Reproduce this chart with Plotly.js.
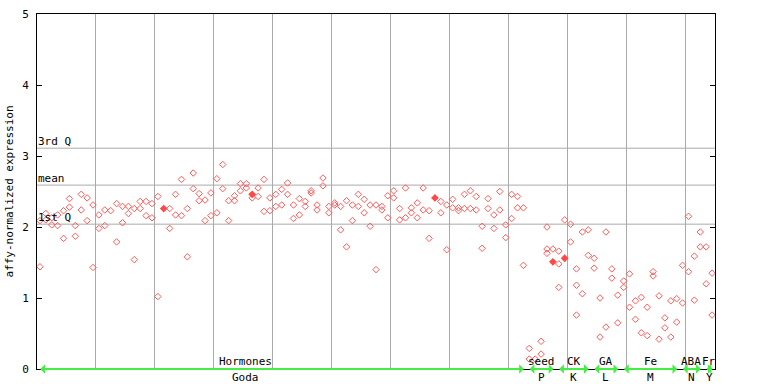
<!DOCTYPE html>
<html><head><meta charset="utf-8">
<script src="https://cdn.plot.ly/plotly-3.0.1.min.js"></script>
<style>html,body{margin:0;padding:0;background:#fff}#chart{width:768px;height:384px}</style>
</head><body><div id="chart"></div>
<script>
// replicate values per sample (sample index = array position)
const repA = [1.44,2.19,2.13,2.17,2.23,2.40,2.02,2.46,2.41,2.31,
2.17,2.24,2.23,2.33,2.29,2.29,2.26,2.36,2.36,2.33,
2.43,null,2.26,2.46,2.67,2.26,2.76,2.47,2.38,2.48,
2.68,2.88,2.37,2.44,2.61,2.61,2.41,2.55,2.67,2.41,
2.46,2.53,2.62,2.31,2.40,2.36,2.51,2.31,2.69,2.29,
2.34,2.29,2.37,2.31,2.46,2.39,2.31,2.31,2.29,2.44,
2.51,2.26,2.55,2.27,2.34,2.55,2.23,null,2.36,2.31,
2.39,2.27,2.46,2.51,2.43,2.01,2.40,2.17,2.50,2.03,
2.46,2.43,2.27,
0.29,0.14,0.39,2.00,1.69,1.66,2.10,2.04,1.41,1.93,
1.96,1.56,1.00,1.93,1.41,1.04,1.24,1.34,0.96,1.01,
0.87,1.37,1.03,0.72,0.96,0.99,1.46,2.15,1.59,1.93,
1.72,1.35];
const repB = [2.09,2.10,2.03,2.02,1.84,2.28,1.87,2.24,2.09,1.43,
1.98,2.02,null,1.79,2.06,2.19,1.54,2.26,2.16,2.13,
1.02,null,1.98,2.17,2.16,1.58,2.54,2.37,2.09,2.16,
2.20,2.54,2.09,2.37,2.51,2.55,null,2.43,2.22,2.23,
2.29,2.31,2.46,2.12,2.17,2.29,2.48,2.24,2.58,2.20,
2.31,1.96,1.72,2.09,2.29,2.20,2.01,1.40,2.24,2.13,
2.41,2.10,2.13,2.20,2.13,2.24,1.84,null,2.20,1.68,
2.27,2.23,2.26,2.26,2.24,1.70,2.26,1.98,2.24,1.85,
2.12,2.27,1.46,
0.14,null,0.21,1.69,null,1.48,null,1.79,1.18,1.06,
1.60,1.42,0.45,0.59,1.28,0.65,1.15,0.87,0.70,0.51,
0.47,1.31,0.42,0.58,0.45,0.66,0.93,1.37,0.97,1.72,
1.20,0.76];
const repCSample = [86, 88, 91];
const repCValue = [1.63, 1.15, 0.76];
const highlightSample = [21, 36, 67, 87, 89];
const highlightValue = [2.26, 2.46, 2.41, 1.51, 1.56];

const groupNames = ["Hormones","seed","CK","GA","Fe","ABA","Fr"];
const groupSubs  = ["Goda","P","K","L","M","N","Y"];
const groupStart = [0, 83, 88, 94, 99, 109, 113];
const groupEnd   = [83, 88, 94, 99, 109, 113, 115];

const quartileNames = ["3rd Q", "mean", "1st Q"];
const quartileValues = [3.11, 2.59, 2.04];

const nSamples = repA.length;
const xs = repA.map((v,i)=>i+0.5);
const red = '#ff5a5a';
const mk = {symbol:'diamond-open', size:5, color:red, line:{width:1, color:red}};
const font = {family:'DejaVu Sans Mono, monospace', size:11, color:'#000'};

const traces = [
  {x: xs, y: repA, type:'scatter', mode:'markers', marker: mk, hoverinfo:'skip', cliponaxis:false},
  {x: xs, y: repB, type:'scatter', mode:'markers', marker: mk, hoverinfo:'skip', cliponaxis:false},
  {x: repCSample.map(i=>i+0.5), y: repCValue, type:'scatter', mode:'markers', marker: mk, hoverinfo:'skip'},
  {x: highlightSample.map(i=>i+0.5), y: highlightValue, type:'scatter', mode:'markers',
   marker:{symbol:'diamond', size:6, color:'#ff4848'}, hoverinfo:'skip'}
];

const shapes = quartileValues.map(v => ({type:'line', xref:'paper', x0:0, x1:1, yref:'y', y0:v, y1:v,
  line:{color:'#aaaaaa', width:1}, layer:'below'}));

const annotations = [];
quartileNames.forEach((t,k)=>{
  annotations.push({text:t, xref:'paper', x:0, xanchor:'left', yref:'y', y:quartileValues[k], yanchor:'bottom',
    yshift:-1, showarrow:false, font:font, borderpad:0});
});
const labelOverride = {0: 35.3};
groupNames.forEach((g,k)=>{
  const c = (labelOverride[k] !== undefined) ? labelOverride[k] : (groupStart[k]+groupEnd[k])/2;
  annotations.push({text:g, xref:'x', x:c, yref:'y', y:0, yanchor:'bottom', yshift:0, showarrow:false, font:font, borderpad:0});
  annotations.push({text:groupSubs[k], xref:'x', x:c, yref:'paper', y:0, yanchor:'top', yshift:-1, showarrow:false, font:font, borderpad:0});
  annotations.push({text:'', xref:'x', yref:'y', x:groupEnd[k]-0.4, y:0, axref:'x', ayref:'y', ax:groupStart[k]+0.3, ay:0,
    showarrow:true, arrowside:'end+start', arrowhead:1, arrowsize:0.8, arrowwidth:2, arrowcolor:'#44ee44', standoff:0, startstandoff:0});
});

const layout = {
  width:768, height:384,
  margin:{l:37, r:53, t:14, b:15},
  paper_bgcolor:'#fff', plot_bgcolor:'#fff',
  showlegend:false,
  font: font,
  xaxis:{range:[0,nSamples], tick0:0, dtick:10, showgrid:true, gridcolor:'#aaaaaa', gridwidth:1,
    showticklabels:false, ticks:'', zeroline:false, showline:true, linecolor:'#000', linewidth:1, mirror:true, fixedrange:true},
  yaxis:{range:[0,5], tick0:0, dtick:1, showgrid:false, zeroline:false, showline:true, linecolor:'#000', linewidth:1,
    mirror:'ticks', ticks:'inside', ticklen:5, tickcolor:'#000', tickfont:font, ticklabelstandoff:5,
    title:{text:'affy-normalized expression', font:font, standoff:6}, fixedrange:true},
  shapes: shapes,
  annotations: annotations
};
Plotly.newPlot('chart', traces, layout, {staticPlot:true});
</script>
</body></html>
